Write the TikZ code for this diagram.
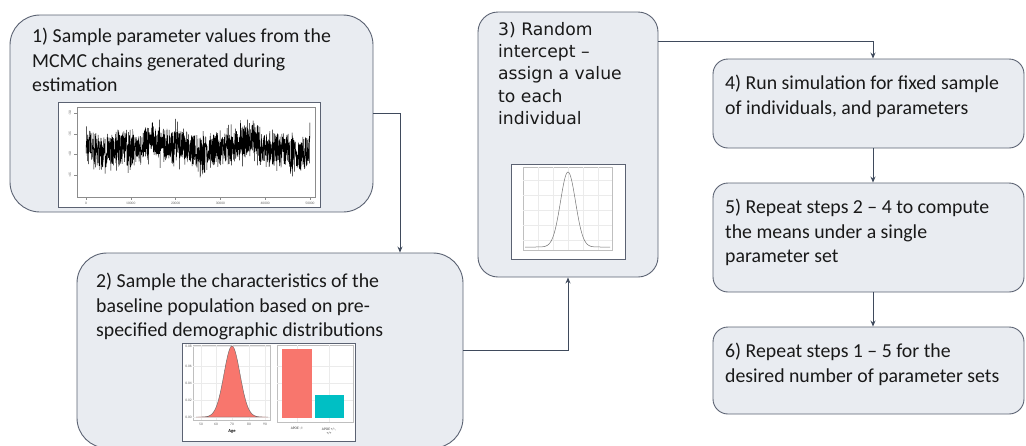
\documentclass[tikz,border=0pt]{standalone}
\usepackage{fontspec}
\setmainfont{Carlito}
\newfontfamily\verdfont{DejaVu Sans}
\usetikzlibrary{arrows.meta}

\definecolor{boxfill}{HTML}{E9ECF1}
\definecolor{boxline}{HTML}{5B6272}
\definecolor{arrowline}{HTML}{3F4A5C}
\definecolor{ggred}{HTML}{F8766D}
\definecolor{ggteal}{HTML}{00BFC4}
\definecolor{gridgray}{HTML}{EBEBEB}

\tikzset{
  stepbox/.style={draw=boxline,fill=boxfill,line width=0.9pt,rectangle,inner sep=0pt},
  steptext/.style={anchor=north west,align=left,inner sep=0pt,text=black!90,
    font=\fontsize{19.8}{24.5}\selectfont},
  conn/.style={draw=arrowline,line width=0.9pt,-{Stealth[length=6pt,width=5pt]}},
  plotframe/.style={draw=boxline,fill=white,line width=0.7pt},
  ticklab/.style={font=\fontsize{3.6}{4}\selectfont,text=black!60,inner sep=0pt},
  gridline/.style={draw=gridgray,line width=0.4pt}
}

\begin{document}
\begin{tikzpicture}[x=1pt,y=-1pt]
    \useasboundingbox (0,0) rectangle (1026,445);
    \node[stepbox,rounded corners=30pt,minimum width=363pt,minimum height=197pt] (b1) at (191.5,113.5) {};
    \node[stepbox,rounded corners=30pt,minimum width=386pt,minimum height=195pt] (b2) at (270,350.5) {};
    \node[stepbox,rounded corners=20pt,minimum width=180pt,minimum height=265pt] (b3) at (568,144.5) {};
    \node[stepbox,rounded corners=15pt,minimum width=311pt,minimum height=89pt] (b4) at (868.5,103.5) {};
    \node[stepbox,rounded corners=15pt,minimum width=311pt,minimum height=109pt] (b5) at (868.5,237.5) {};
    \node[stepbox,rounded corners=15pt,minimum width=311pt,minimum height=87pt] (b6) at (868.5,370.5) {};

    \node[steptext] (t1) at (32,28) {1) Sample parameter values from the\\MCMC chains generated during\\estimation};
    \node[steptext] (t2) at (96,273) {2) Sample the characteristics of the\\baseline population based on pre-\\specified demographic distributions};
    \node[steptext,font=\verdfont\fontsize{17.2}{22.3}\selectfont] (t3) at (498,22) {3) Random\\intercept –\\assign a value\\to each\\individual};
    \node[steptext] (t4) at (725,75) {4) Run simulation for fixed sample\\of individuals, and parameters};
    \node[steptext] (t5) at (725,199) {5) Repeat steps 2 – 4 to compute\\the means under a single\\parameter set};
    \node[steptext] (t6) at (725,343) {6) Repeat steps 1 – 5 for the\\desired number of parameter sets};

    \draw[conn] (b1.east) -| ([xshift=130pt]b2.north);
    \draw[conn] (b2.east) -| (b3.south);
    \draw[conn] ([yshift=-30pt]b3.north east) -| ([xshift=4.5pt]b4.north);
    \draw[conn] ([xshift=4.5pt]b4.south) -- ([xshift=4.5pt]b5.north);
    \draw[conn] ([xshift=4.5pt]b5.south) -- ([xshift=4.5pt]b6.north);

    \draw[plotframe] (58,102) rectangle (320,207);
    \draw[black!45,line width=0.4pt] (77,107) rectangle (315,197);
    \foreach \v/\yy in {-3.0/113,-3.5/134,-4.0/154,-4.5/175} {
        \draw[black!45,line width=0.3pt] (77,\yy) -- (74,\yy);
        \node[ticklab,rotate=90] at (70,\yy) {\v};
    }
    \foreach \v [count=\i from 0] in {0,10000,20000,30000,40000,50000} {
        \draw[black!45,line width=0.3pt] (86+44.8*\i,197) -- (86+44.8*\i,200);
        \node[ticklab] at (86+44.8*\i,203.5) {\v};
    }
    \pgfmathsetseed{11}
    \draw[black,line width=0.45pt] plot[domain=86:310,samples=1400]
        (\x,{147+16*rand+22*rand*rand*rand+5*sin(4*\x)+3*sin(11*\x+40)});

    \draw[plotframe] (182,343) rectangle (355,441);
    \draw[black!25,line width=0.4pt] (193,345) rectangle (270,420);
    \foreach \xx in {201,216,232,249,265} \draw[gridline] (\xx,345) -- (\xx,420);
    \foreach \yy in {346,366,383,400,417} \draw[gridline] (193,\yy) -- (270,\yy);
    \fill[ggred,draw=black!60,line width=0.4pt] plot[domain=196:268,samples=80]
        (\x,{417-71*exp(-((\x-232)/8)^2/2)}) -- cycle;
    \foreach \v/\yy in {0.08/346,0.06/366,0.04/383,0.02/400,0.00/417}
        \node[ticklab,anchor=east] at (192,\yy) {\v};
    \foreach \v/\xx in {50/201,60/216,70/232,80/249,90/265}
        \node[ticklab] at (\xx,424.5) {\v};
    \node[ticklab,text=black,font=\fontsize{4.5}{5}\selectfont\bfseries] at (232,431) {Age};
    \draw[black!25,line width=0.4pt] (277,345) rectangle (353,422);
    \foreach \xx in {297,329} \draw[gridline] (\xx,345) -- (\xx,422);
    \foreach \yy in {366,383,400} \draw[gridline] (277,\yy) -- (353,\yy);
    \fill[ggred] (282,349) rectangle (312,418);
    \fill[ggteal] (315,395) rectangle (344,418);
    \node[ticklab,text=black!80] at (297,428.5) {APOE -/-};
    \node[ticklab,text=black!80,align=center] at (329,431.5) {APOE +/-,\\+/+};

    \draw[plotframe] (511,164) rectangle (625,259);
    \draw[black!25,line width=0.4pt] (523,167) rectangle (612,250);
    \foreach \xx in {538,553,568,583,598} \draw[gridline] (\xx,167) -- (\xx,250);
    \foreach \yy in {180,195,210,225,240} \draw[gridline] (523,\yy) -- (612,\yy);
    \draw[black!55,line width=0.5pt] plot[domain=525:610,samples=90]
        (\x,{247-75*exp(-((\x-568)/7.5)^2/2)});
\end{tikzpicture}
\end{document}
